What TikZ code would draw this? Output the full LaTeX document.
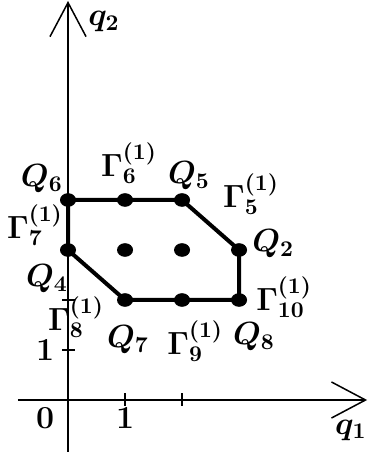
\RequirePackage{fix-cm}
\documentclass[tikz,border=0pt]{standalone}
\usepackage{tikz}
\usetikzlibrary{arrows.meta, shapes.geometric}

\tikzset{
  axis/.style={line width=0.75pt, -{Straight Barb[length=17pt, width=18pt, line width=0.75pt]}},
  tick/.style={line width=0.75pt},
  edge/.style={line width=2pt, line join=round},
  lattice/.style={ellipse, fill=black, inner sep=0pt, minimum width=8pt, minimum height=6.8pt},
  lbl/.style={inner sep=0pt, font=\fontsize{16}{19}\selectfont\boldmath},
}

\begin{document}
\begin{tikzpicture}[x=1cm, y=0.877cm]
\useasboundingbox (-1.193,-1.1) rectangle (5.246,8);

% Axes
\coordinate (xstart) at (-0.88,0);
\coordinate (xend) at (5.246,0);
\coordinate (ystart) at (0,-1.04);
\coordinate (yend) at (0,7.98);
\draw[axis] (xstart) -- (xend);
\draw[axis] (ystart) -- (yend);
\node[lbl] (q1) at (4.96,-0.6) {$q_1$};
\node[lbl] (q2) at (0.63,7.56) {$q_2$};

% Ticks
\draw[tick] (1,-0.12) -- (1,0.14);
\draw[tick] (2,-0.12) -- (2,0.14);
\draw[tick] (-0.1,1) -- (0.12,1);
\draw[tick] (-0.1,2) -- (0.12,2);
\node[lbl] (zero) at (-0.40,-0.36) {$0$};
\node[lbl] (onex) at (1.0,-0.36) {$1$};
\node[lbl] (oney) at (-0.40,1.0) {$1$};

% Lattice points
\node[lattice] (Q6) at (0,4) {};
\node[lattice] (G6) at (1,4) {};
\node[lattice] (Q5) at (2,4) {};
\node[lattice] (Q2) at (3,3) {};
\node[lattice] (G10) at (3,2) {};
\node[lattice] (G9) at (2,2) {};
\node[lattice] (Q7) at (1,2) {};
\node[lattice] (Q4) at (0,3) {};
\node[lattice] (in1) at (1,3) {};
\node[lattice] (in2) at (2,3) {};

% Polygon
\draw[edge] (Q6.center) -- (Q5.center) -- (Q2.center) -- (G10.center)
  -- (Q7.center) -- (Q4.center) -- cycle;

% Labels
\node[lbl] (lQ6) at (-0.46,4.42) {$Q_6$};
\node[lbl] (lG6) at (1.07,4.74) {$\Gamma_6^{(1)}$};
\node[lbl] (lQ5) at (2.12,4.48) {$Q_5$};
\node[lbl] (lG5) at (3.21,4.12) {$\Gamma_5^{(1)}$};
\node[lbl] (lQ2) at (3.6,3.12) {$Q_2$};
\node[lbl] (lG10) at (3.79,2.06) {$\Gamma_{10}^{(1)}$};
\node[lbl] (lQ8) at (3.26,1.26) {$Q_8$};
\node[lbl] (lG9) at (2.23,1.18) {$\Gamma_9^{(1)}$};
\node[lbl] (lQ7) at (1.05,1.2) {$Q_7$};
\node[lbl] (lG8) at (0.14,1.66) {$\Gamma_8^{(1)}$};
\node[lbl] (lQ4) at (-0.37,2.42) {$Q_4$};
\node[lbl] (lG7) at (-0.58,3.5) {$\Gamma_7^{(1)}$};

\end{tikzpicture}
\end{document}
